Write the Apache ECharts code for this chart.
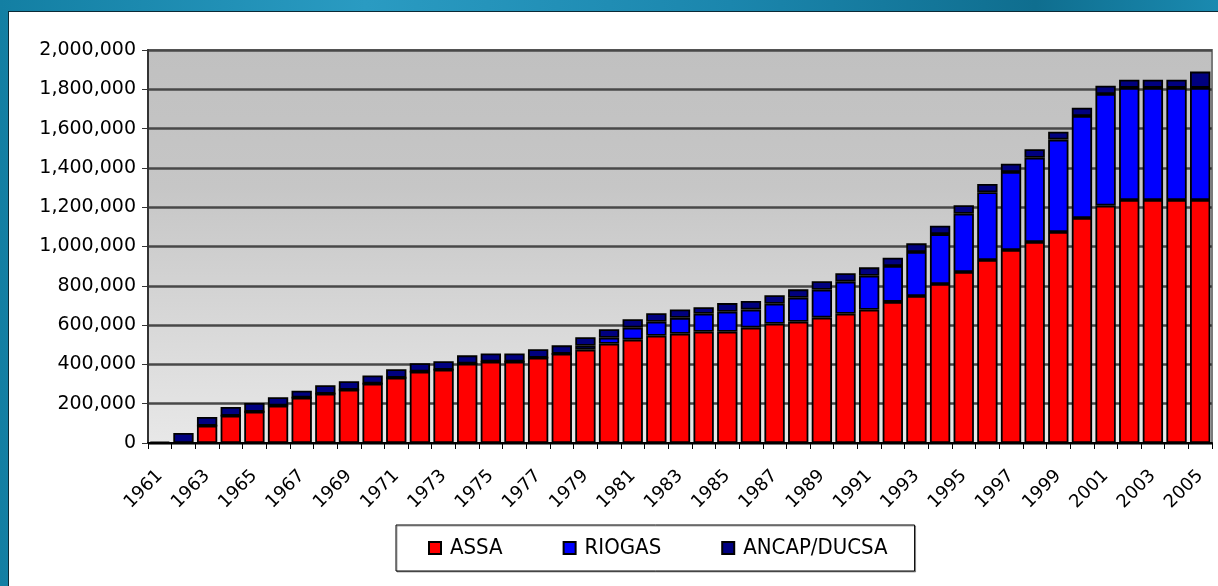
<!DOCTYPE html>
<html>
<head>
<meta charset="utf-8">
<script src="https://cdn.jsdelivr.net/npm/echarts@6/dist/echarts.min.js"></script>
<style>
  html, body { margin: 0; padding: 0; width: 1218px; height: 586px; overflow: hidden; }
  body { background: linear-gradient(90deg, #137fa3 0%, #2a9bc2 30%, #1b86ad 60%, #0f6e8f 85%, #1a8ab0 100%); position: relative; }
  .panel { position: absolute; left: 8px; top: 11px; right: 0; bottom: 0; background: #fff; border-left: 1px solid #0b2a36; border-top: 1px solid #0b2a36; }
  #chart { position: absolute; left: 0; top: 0; width: 1218px; height: 586px; }
</style>
</head>
<body>
<div class="panel"></div>
<div id="chart"></div>
<script>
// anos 1961..2005
const years = [];
for (let y = 1961; y <= 2005; y++) years.push(String(y));

// ASSA
const assa = [
  0, 0, 88000, 139000, 159000, 190000, 231000, 251000, 271000, 302000,
  332000, 363000, 373000, 404000, 414000, 414000, 434000, 454000, 475000, 505000,
  526000, 546000, 556000, 566000, 566000, 587000, 607000, 617000, 638000, 658000,
  678000, 718000, 748000, 809000, 870000, 931000, 982000, 1023000, 1074000, 1145000,
  1208000, 1237000, 1237000, 1237000, 1237000
];

// RIOGAS
const riogas = [
  0, 0, 0, 0, 0, 0, 0, 0, 0, 0,
  0, 0, 0, 0, 0, 0, 0, 0, 20000, 31000,
  61000, 71000, 81000, 92000, 102000, 92000, 102000, 122000, 142000, 163000,
  173000, 183000, 224000, 254000, 297000, 345000, 397000, 429000, 470000, 519000,
  568000, 570000, 570000, 570000, 570000
];

// ANCAP/DUCSA
const ancap = [
  6000, 51000, 44000, 44000, 45000, 43000, 35000, 43000, 43000, 42000,
  43000, 43000, 43000, 42000, 42000, 42000, 43000, 43000, 43000, 43000,
  43000, 43000, 43000, 33000, 44000, 44000, 43000, 43000, 43000, 43000,
  43000, 42000, 44000, 43000, 43000, 42000, 42000, 43000, 40000, 42000,
  42000, 42000, 42000, 42000, 83000
];

const yMax = 2000000;
const yStep = 200000;

const chart = echarts.init(document.getElementById('chart'));

function fmt(v) {
  return String(v).replace(/\B(?=(\d{3})+(?!\d))/g, ',');
}

const barStyle = (color) => ({
  color: color,
  borderColor: '#000',
  borderWidth: 1.8
});

chart.setOption({
  animation: false,
  textStyle: { fontFamily: 'DejaVu Sans', color: '#000' },
  grid: {
    left: 148,
    top: 50,
    width: 1064,
    height: 393,
    show: true,
    borderColor: '#7a7a7a',
    borderWidth: 2,
    backgroundColor: new echarts.graphic.LinearGradient(0, 0, 0, 1, [
      { offset: 0, color: '#c0c0c0' },
      { offset: 0.35, color: '#c6c6c6' },
      { offset: 1, color: '#e8e8e8' }
    ])
  },
  legend: {
    left: 396,
    top: 525,
    padding: [12, 27, 12, 32],
    backgroundColor: '#fff',
    borderColor: '#000',
    borderWidth: 1,
    shadowColor: 'rgba(0,0,0,0.35)',
    shadowOffsetX: 1,
    shadowOffsetY: 1,
    shadowBlur: 0,
    itemWidth: 12,
    itemHeight: 12,
    itemGap: 60,
    icon: 'rect',
    data: ['ASSA', 'RIOGAS', 'ANCAP/DUCSA'],
    textStyle: {
      fontFamily: 'DejaVu Sans Condensed',
      fontSize: 22,
      color: '#000',
      padding: [0, 0, 0, 4]
    }
  },
  xAxis: {
    type: 'category',
    data: years,
    axisLine: { lineStyle: { color: '#000', width: 2 } },
    axisTick: { show: true, interval: 0, length: 6, lineStyle: { color: '#000' } },
    axisLabel: {
      interval: 1,
      rotate: 45,
      margin: 30,
      fontSize: 18,
      color: '#000'
    }
  },
  yAxis: {
    type: 'value',
    min: 0,
    max: yMax,
    interval: yStep,
    axisLine: { show: true, lineStyle: { color: '#333', width: 2 } },
    axisTick: { show: true, length: 6, lineStyle: { color: '#333' } },
    axisLabel: {
      fontSize: 19,
      margin: 12,
      color: '#000',
      formatter: fmt
    },
    splitLine: { lineStyle: { color: '#484848', width: 2.6 } }
  },
  series: [
    {
      name: 'ASSA',
      type: 'bar',
      stack: 'total',
      barCategoryGap: '14%',
      itemStyle: barStyle('#ff0000'),
      data: assa
    },
    {
      name: 'RIOGAS',
      type: 'bar',
      stack: 'total',
      itemStyle: barStyle('#0000ff'),
      data: riogas
    },
    {
      name: 'ANCAP/DUCSA',
      type: 'bar',
      stack: 'total',
      itemStyle: barStyle('#000080'),
      data: ancap
    }
  ]
});
</script>
</body>
</html>
